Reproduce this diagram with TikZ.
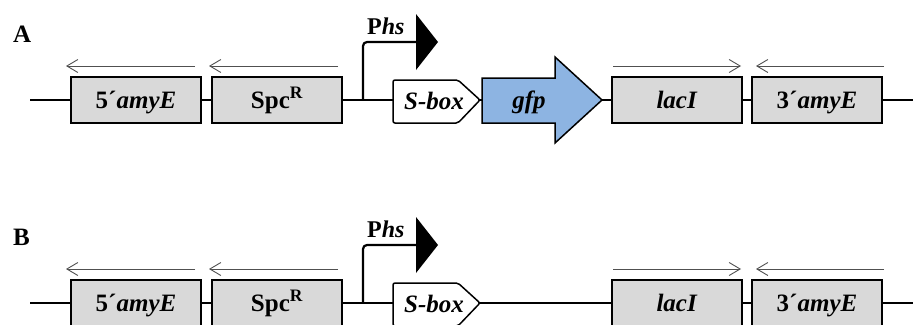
\documentclass[tikz,border=0pt]{standalone}
\usepackage{fontspec}
\setmainfont{Liberation Serif}
\usetikzlibrary{arrows.meta}
\definecolor{boxgray}{RGB}{217,217,217}
\definecolor{gfpblue}{RGB}{141,180,226}
\definecolor{arrowgray}{RGB}{80,80,80}
\tikzset{
  genebox/.style={draw=black, line width=1.5pt, fill=boxgray, minimum width=130pt,
    minimum height=46pt, inner sep=0pt, text height=16pt, text depth=0pt,
    font=\fontsize{25}{25}\selectfont\bfseries},
  dirarrow/.style={draw=arrowgray, line width=0.9pt, -{Straight Barb[length=11pt,width=13pt,line width=0.9pt]}},
  backbone/.style={draw=black, line width=1.5pt},
  promoter/.style={draw=black, line width=2.2pt, rounded corners=4pt},
  panellabel/.style={anchor=base west, inner sep=0pt, font=\fontsize{25}{25}\selectfont\bfseries},
  phslabel/.style={anchor=base west, inner sep=0pt, font=\fontsize{24}{24}\selectfont\bfseries},
  inlabel/.style={anchor=base, inner sep=0pt, font=\fontsize{25}{25}\selectfont\bfseries\itshape},
  sboxshape/.style={draw=black, line width=1.5pt, fill=white, rounded corners=2pt},
  gfpshape/.style={draw=black, line width=1.5pt, fill=gfpblue},
}
\begin{document}
\begin{tikzpicture}[x=1pt,y=-1pt]
\useasboundingbox (0,0) rectangle (917,324);
\foreach \p/\dy/\lab in {A/0/A,B/203/B}{
  \begin{scope}[yshift=-\dy pt]
    % backbone
    \coordinate (start\p) at (30,100);
    \coordinate (end\p) at (913,100);
    \draw[backbone] (start\p) -- (end\p);
    % panel label
    \node[panellabel] (label\p) at (13,42) {\lab};
    % boxes
    \node[genebox] (amyfive\p) at (136,100) {5´\textit{amyE}};
    \node[genebox] (spc\p) at (277,100) {Spc\textsuperscript{R}};
    \node[genebox] (lac\p) at (677,100) {\textit{lacI}};
    \node[genebox] (amythree\p) at (817,100) {3´\textit{amyE}};
    % direction arrows
    \coordinate (a1s\p) at (195,66); \coordinate (a1e\p) at (66,66);
    \coordinate (a2s\p) at (338,66); \coordinate (a2e\p) at (209,66);
    \coordinate (a3s\p) at (613,66); \coordinate (a3e\p) at (741,66);
    \coordinate (a4s\p) at (884,66); \coordinate (a4e\p) at (756,66);
    \draw[dirarrow] (a1s\p) -- (a1e\p);
    \draw[dirarrow] (a2s\p) -- (a2e\p);
    \draw[dirarrow] (a3s\p) -- (a3e\p);
    \draw[dirarrow] (a4s\p) -- (a4e\p);
    % promoter
    \coordinate (pbase\p) at (363,100);
    \coordinate (ptop\p) at (418,42);
    \draw[promoter] (pbase\p) |- (ptop\p);
    \fill[black] (416,14) -- (438,42) -- (416,70) -- cycle;
    \node[phslabel] (phs\p) at (367,34) {P\textit{hs}};
    % S-box
    \draw[sboxshape] (393,80) -- (458,80) -- (480,100) -- (458,123) -- (393,123) -- cycle;
    \node[inlabel] (sbox\p) at (434,109) {S-box};
  \end{scope}
}
% gfp only in A
\draw[gfpshape] (482,78) -- (555,78) -- (555,57) -- (602,100) -- (555,143) -- (555,123) -- (482,123) -- cycle;
\node[inlabel] (gfp) at (529,108) {gfp};
\end{tikzpicture}
\end{document}
